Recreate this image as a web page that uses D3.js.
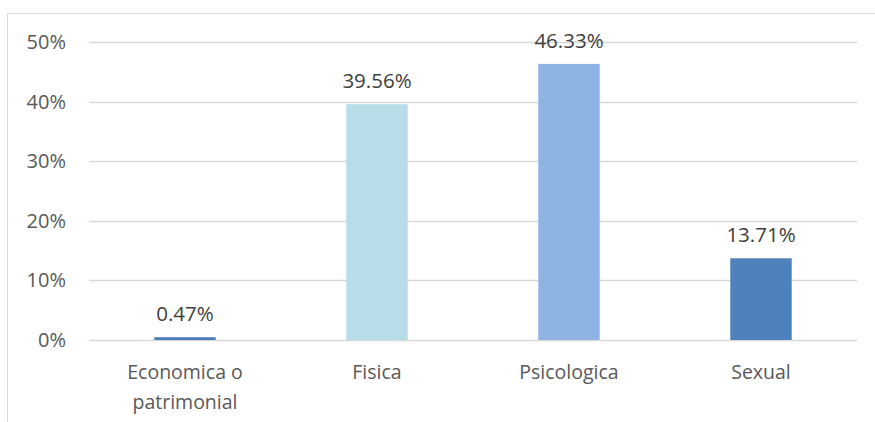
<!DOCTYPE html>
<html><head><meta charset="utf-8">
<script src="https://cdn.jsdelivr.net/npm/d3@7"></script>
<style>
html,body{margin:0;padding:0;background:#fff;}
svg{display:block;font-family:"Open Sans",sans-serif;}
</style></head>
<body><svg id="c" width="875" height="422"></svg>
<script>
const categories = ["Economica o patrimonial", "Fisica", "Psicologica", "Sexual"];
const categoryLines = [["Economica o", "patrimonial"], ["Fisica"], ["Psicologica"], ["Sexual"]];
const values = [0.47, 39.56, 46.33, 13.71];
const valueLabels = ["0.47%", "39.56%", "46.33%", "13.71%"];
const barColors = ["#4a7ebb", "#b7dde8", "#8eb4e3", "#4f81bd"];
const yTicks = [0, 10, 20, 30, 40, 50];
const yTickLabels = ["0%", "10%", "20%", "30%", "40%", "50%"];

(function () {
const svg = d3.select("#c");
svg.append("rect").attr("x", 7.5).attr("y", 13.5).attr("width", 880).attr("height", 420)
  .attr("fill", "none").attr("stroke", "#d9d9d9").attr("stroke-width", 1);

const mLeft = 89, mRight = 857, mTop = 42, mBottom = 340;
const x = d3.scaleBand().domain(categories).range([mLeft, mRight]).paddingInner(0.68).paddingOuter(0.34);
const y = d3.scaleLinear().domain([0, 50]).range([mBottom, mTop]);

const g = svg.append("g");
g.selectAll("line.grid").data(yTicks).join("line")
  .attr("x1", mLeft).attr("x2", mRight)
  .attr("y1", d => Math.round(y(d)) + 0.5).attr("y2", d => Math.round(y(d)) + 0.5)
  .attr("stroke", "#d9d9d9").attr("stroke-width", 1.5);

g.selectAll("text.tick").data(yTicks).join("text")
  .attr("x", 66).attr("y", d => y(d)).attr("dy", "0.35em")
  .attr("text-anchor", "end").attr("fill", "#595959").attr("font-size", 20)
  .text((d, i) => yTickLabels[i]);

g.selectAll("rect.bar").data(values).join("rect")
  .attr("x", (d, i) => x(categories[i])).attr("width", x.bandwidth())
  .attr("y", d => y(d)).attr("height", d => mBottom - y(d))
  .attr("fill", (d, i) => barColors[i]);

g.selectAll("text.val").data(values).join("text")
  .attr("x", (d, i) => x(categories[i]) + x.bandwidth() / 2)
  .attr("y", d => y(d) - 16)
  .attr("text-anchor", "middle").attr("fill", "#404040").attr("font-size", 20.5)
  .text((d, i) => valueLabels[i]);

categories.forEach((c, i) => {
  const t = g.append("text")
    .attr("x", x(c) + x.bandwidth() / 2).attr("y", mBottom + 39)
    .attr("text-anchor", "middle").attr("fill", "#595959").attr("font-size", 19.5);
  categoryLines[i].forEach((ln, j) => {
    t.append("tspan").attr("x", x(c) + x.bandwidth() / 2).attr("dy", j === 0 ? 0 : 30).text(ln);
  });
});
})();
</script></body></html>
